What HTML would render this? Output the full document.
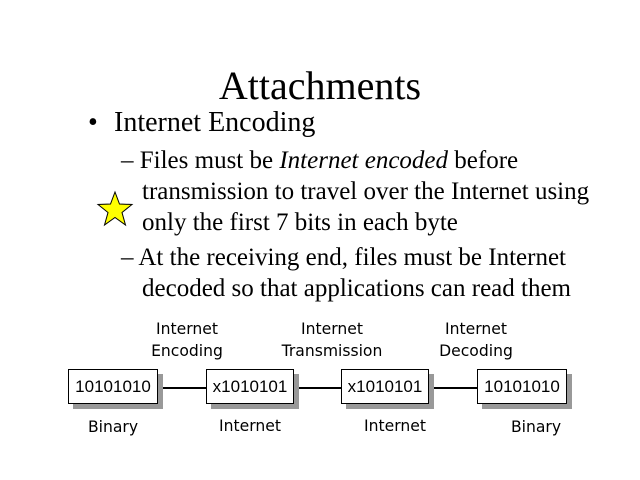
<!DOCTYPE html>
<html><head><style>
body{margin:0;width:640px;height:480px;background:#fff;position:relative;overflow:hidden;font-family:"Liberation Serif",serif;color:#000}
.t{position:absolute;white-space:nowrap}
.s{font-family:"DejaVu Sans","Liberation Sans",sans-serif;font-size:15.6px;text-align:center;position:absolute;line-height:22px}
.b{position:absolute;top:369px;height:35px;border:1px solid #000;background:#fff;box-shadow:5px 5px 0 #999;box-sizing:border-box;font-family:"Liberation Sans",sans-serif;font-size:17px;line-height:33px;text-align:center}
.l{position:absolute;top:387px;height:2px;background:#000}
</style></head><body>
<div class="t" style="left:0;width:640px;text-align:center;top:62px;font-size:40px">Attachments</div>
<div class="t" style="left:88px;top:107px;font-size:28px">•</div>
<div class="t" style="left:114px;top:107px;font-size:28px">Internet Encoding</div>
<div class="t" style="left:121px;top:145px;font-size:25px;line-height:31px">– Files must be <i>Internet encoded</i> before</div>
<div class="t" style="left:142px;top:176px;font-size:25px;line-height:31px">transmission to travel over the Internet using<br>only the first 7 bits in each byte</div>
<div class="t" style="left:121px;top:242px;font-size:25px;line-height:31px">– At the receiving end, files must be Internet</div>
<div class="t" style="left:142px;top:273px;font-size:25px;line-height:31px">decoded so that applications can read them</div>
<svg style="position:absolute;left:0;top:0" width="640" height="480"><polygon points="115,192 119.5,204 132,204.5 122,212.5 125.5,225 115,217.5 104.5,225 108,212.5 98,204.5 110.5,204" fill="#ff0" stroke="#000" stroke-width="1"/></svg>
<div class="s" style="left:137px;width:100px;top:318px">Internet<br>Encoding</div>
<div class="s" style="left:272px;width:120px;top:318px">Internet<br>Transmission</div>
<div class="s" style="left:426px;width:100px;top:318px">Internet<br>Decoding</div>
<div class="l" style="left:158px;width:48px"></div>
<div class="l" style="left:293px;width:48px"></div>
<div class="l" style="left:428px;width:49px"></div>
<div class="b" style="left:68px;width:90px">10101010</div>
<div class="b" style="left:206px;width:88px">x1010101</div>
<div class="b" style="left:341px;width:88px">x1010101</div>
<div class="b" style="left:477px;width:90px">10101010</div>
<div class="s" style="left:63px;width:100px;top:416px">Binary</div>
<div class="s" style="left:200px;width:100px;top:415px">Internet</div>
<div class="s" style="left:345px;width:100px;top:415px">Internet</div>
<div class="s" style="left:486px;width:100px;top:416px">Binary</div>
</body></html>
